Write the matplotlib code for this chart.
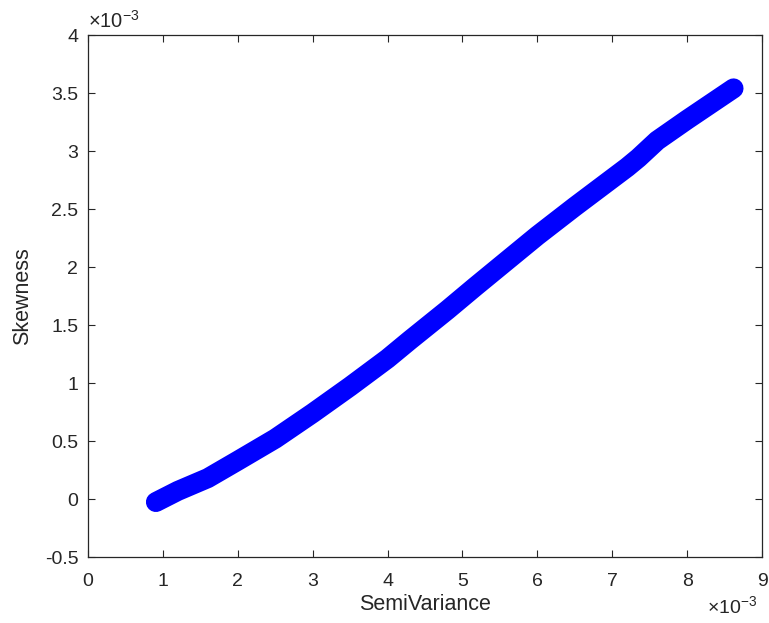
import numpy as np
import matplotlib.pyplot as plt
from matplotlib.ticker import FuncFormatter

plt.rcParams['font.family'] = ['Liberation Sans', 'DejaVu Sans']
plt.rcParams['mathtext.fontset'] = 'custom'
plt.rcParams['mathtext.rm'] = 'Liberation Sans'
plt.rcParams['mathtext.it'] = 'Liberation Sans'
plt.rcParams['mathtext.default'] = 'regular'

# semivariance vs skewness of the portfolio set
semivariance = [0.907e-3, 1.20e-3, 1.60e-3, 2.00e-3, 2.50e-3, 3.00e-3, 3.50e-3,
                4.00e-3, 4.30e-3, 4.80e-3, 5.17e-3, 6.00e-3, 6.50e-3, 7.20e-3,
                7.35e-3, 7.60e-3, 8.00e-3, 8.62e-3]
skewness = [-0.026e-3, 0.07e-3, 0.18e-3, 0.33e-3, 0.52e-3, 0.74e-3, 0.97e-3,
            1.21e-3, 1.37e-3, 1.63e-3, 1.83e-3, 2.27e-3, 2.52e-3, 2.86e-3,
            2.94e-3, 3.09e-3, 3.27e-3, 3.54e-3]

xticks = np.arange(0, 10) * 1e-3
yticks = np.arange(-0.5, 4.01, 0.5) * 1e-3

dark = '#262626'

fig = plt.figure(figsize=(7.69, 6.23), dpi=100)
ax = fig.add_axes([0.1144, 0.1059, 0.8765, 0.8379])

ax.plot(semivariance, skewness, color='#0000ff', lw=14.4,
        solid_capstyle='round', solid_joinstyle='round')

ax.set_xlim(0, 9e-3)
ax.set_ylim(-0.5e-3, 4e-3)
ax.set_xticks(xticks)
ax.set_yticks(yticks)

# ticks in units of 1e-3, exponent shown separately
fmt = FuncFormatter(lambda v, pos: f'{round(v * 1e3, 2):g}')
ax.xaxis.set_major_formatter(fmt)
ax.yaxis.set_major_formatter(fmt)
ax.text(0.0, 1.006, r'$\times10^{-3}$', transform=ax.transAxes,
        ha='left', va='bottom', fontsize=14.5, color=dark)
ax.text(0.993, -0.074, r'$\times10^{-3}$', transform=ax.transAxes,
        ha='right', va='top', fontsize=14, color=dark)

ax.tick_params(direction='in', top=True, right=True, length=5, width=0.8,
               colors=dark, labelsize=14)
ax.tick_params(axis='x', pad=11.5)
ax.tick_params(axis='y', pad=7)
for s in ax.spines.values():
    s.set_color(dark)
    s.set_linewidth(0.9)

ax.set_xlabel('SemiVariance', fontsize=15.5, color=dark, labelpad=3)
ax.set_ylabel('Skewness', fontsize=15.5, color=dark, labelpad=8)

plt.savefig('out.png', dpi=100)
